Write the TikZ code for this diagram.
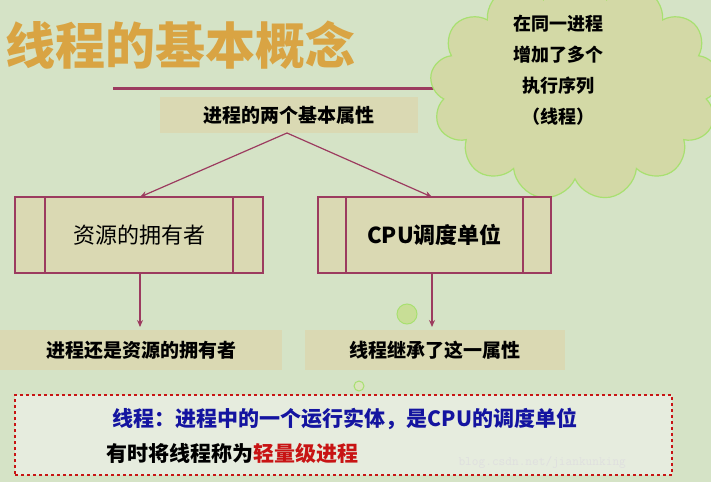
\documentclass[tikz,border=0pt]{standalone}
\usepackage{fontspec}
\setmainfont{Noto Sans CJK SC}
\usetikzlibrary{shapes.symbols,arrows.meta}
\definecolor{bg}{HTML}{D5E3C6}
\definecolor{maroon}{HTML}{9C3B5F}
\definecolor{tan}{HTML}{DAD9B3}
\definecolor{gold}{HTML}{D9A443}
\definecolor{cloudedge}{RGB}{168,224,112}
\definecolor{cloudfill}{RGB}{211,217,166}
\definecolor{dotfill}{RGB}{200,222,150}
\definecolor{dotfillb}{RGB}{220,228,190}
\definecolor{boxfill}{RGB}{230,236,222}
\definecolor{navy}{RGB}{20,20,160}
\definecolor{dred}{RGB}{200,20,20}
\tikzset{
 lbl/.style={fill=tan,inner sep=0pt,font=\fontsize{19}{21}\selectfont\bfseries},
 pbox/.style={draw=maroon,line width=1.2pt,fill=tan,minimum height=76pt,inner sep=0pt,font=\fontsize{22}{24}\selectfont},
 arr/.style={maroon,line width=1.2pt,-{Stealth[length=7pt,width=6pt]}}
}
\begin{document}
\begin{tikzpicture}[x=1pt,y=-1pt]
\fill[bg] (0,0) rectangle (711,482);
\useasboundingbox (0,0) rectangle (711,482);
\node[anchor=west,text=gold,font=\fontsize{50}{52}\selectfont\bfseries,inner sep=0pt] (title) at (5,45) {线程的基本概念};
\draw[maroon,line width=3pt] (113,88) -- (711,88);
\node[cloud,cloud puffs=13,aspect=1.3,draw=cloudedge,line width=1.2pt,fill=cloudfill,minimum width=290pt,minimum height=225pt,inner sep=0pt] (cl) at (575,88) {};
\node[align=center,font=\fontsize{18}{31}\selectfont\bfseries] (ct) at (558,70) {在同一进程\\增加了多个\\执行序列\\（线程）};
\node[lbl,minimum width=258pt,minimum height=36pt] (top) at (289,115) {进程的两个基本属性};
\node[pbox,minimum width=248pt] (b1) at (139,235) {资源的拥有者};
\node[pbox,minimum width=233pt,font=\fontsize{22}{24}\selectfont\bfseries] (b2) at (434.5,235) {CPU调度单位};
\draw[maroon,line width=1.2pt] (45,197) -- (45,273) (233,197) -- (233,273) (346,197) -- (346,273) (523,197) -- (523,273);
\coordinate (s) at (287,133);
\draw[arr] (s) -- (140,197);
\draw[arr] (s) -- (432,197);
\node[lbl,minimum width=282pt,minimum height=40pt] (l1) at (141,350) {进程还是资源的拥有者};
\node[lbl,minimum width=260pt,minimum height=40pt] (l2) at (435,350) {线程继承了这一属性};
\draw[arr] (140,273) -- (140,327);
\draw[arr] (432,273) -- (432,327);
\draw[cloudedge,line width=1pt,fill=dotfill] (407,314) circle (10);
\draw[cloudedge,line width=1pt,fill=dotfillb] (359,386) circle (5);
\node[draw=dred,dashed,line width=1.5pt,fill=boxfill,minimum width=657pt,minimum height=80pt] (db) at (343.5,435) {};
\node[text=navy,font=\fontsize{21}{24}\selectfont\bfseries] (t1) at (345,419) {线程：进程中的一个运行实体，是CPU的调度单位};
\node[anchor=west,font=\fontsize{21}{24}\selectfont\bfseries] (t2) at (103,453) {有时将线程称为\textcolor{dred}{轻量级进程}};
\node[anchor=west,text=white!75!gray,font=\fontsize{13}{14}\selectfont\ttfamily] (wm) at (455,462) {blog.csdn.net/jiankunking};
\end{tikzpicture}
\end{document}
